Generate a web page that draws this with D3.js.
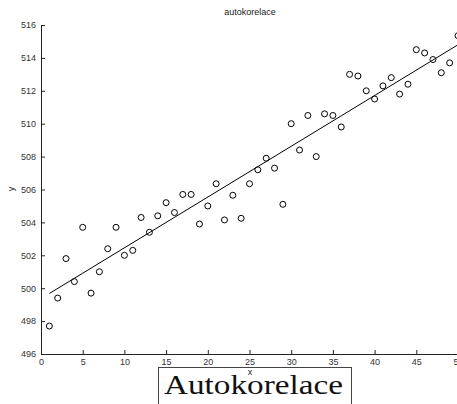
<!DOCTYPE html>
<html>
<head>
<meta charset="utf-8">
<script src="https://cdn.jsdelivr.net/npm/d3@7"></script>
<style>
  html, body { margin: 0; padding: 0; background: #fff; }
  svg { display: block; }
  .tick text { font-family: "Liberation Sans", Arial, sans-serif; font-size: 9px; fill: #333; }
</style>
</head>
<body>
<svg id="chart" width="457" height="404"></svg>
<script>
// measured series (x = lag index, y = value)
const xs = d3.range(1, 51);
const ys = [
  497.7, 499.4, 501.8, 500.4, 503.7, 499.7, 501.0, 502.4, 503.7, 502.0,
  502.3, 504.3, 503.4, 504.4, 505.2, 504.6, 505.7, 505.7, 503.9, 505.0,
  506.35, 504.15, 505.65, 504.25, 506.35, 507.2, 507.9, 507.3, 505.1, 510.0,
  508.4, 510.5, 508.0, 510.6, 510.5, 509.8, 513.0, 512.9, 512.0, 511.5,
  512.3, 512.8, 511.8, 512.4, 514.5, 514.3, 513.9, 513.1, 513.7, 515.35
];
const xTicks = [0, 5, 10, 15, 20, 25, 30, 35, 40, 45, 50];
const yTicks = [496, 498, 500, 502, 504, 506, 508, 510, 512, 514, 516];

const svg = d3.select("#chart");

const x = d3.scaleLinear().domain([0, 50]).range([41, 458]);
const y = d3.scaleLinear().domain([496, 516]).range([354, 25]);

// least squares fit line
const mx = d3.mean(xs), my = d3.mean(ys);
const slope = d3.sum(xs, (v, i) => (v - mx) * (ys[i] - my)) / d3.sum(xs, v => (v - mx) * (v - mx));
const icpt = my - slope * mx;

const axisColor = "#222";

// y axis, ticks inward
const yAxis = svg.append("g")
  .attr("transform", "translate(41,0)")
  .call(d3.axisLeft(y).tickValues(yTicks).tickSizeInner(-4).tickSizeOuter(0).tickPadding(5));
yAxis.select(".domain").attr("stroke", axisColor);
yAxis.selectAll(".tick line").attr("stroke", axisColor);

// x axis
const xAxis = svg.append("g")
  .attr("transform", "translate(0,354)")
  .call(d3.axisBottom(x).tickValues(xTicks).tickSizeInner(-4).tickSizeOuter(0).tickPadding(5));
xAxis.select(".domain").attr("stroke", axisColor);
xAxis.selectAll(".tick line").attr("stroke", axisColor);

// fit line
svg.append("line")
  .attr("x1", x(1)).attr("y1", y(icpt + slope * 1))
  .attr("x2", x(50)).attr("y2", y(icpt + slope * 50))
  .attr("stroke", "#000").attr("stroke-width", 1);

// points
svg.append("g").selectAll("circle")
  .data(xs)
  .join("circle")
  .attr("cx", d => x(d))
  .attr("cy", (d, i) => y(ys[i]))
  .attr("r", 3)
  .attr("fill", "none")
  .attr("stroke", "#000")
  .attr("stroke-width", 1);

// labels
svg.append("text")
  .attr("x", 250).attr("y", 15)
  .attr("text-anchor", "middle")
  .style("font-family", "Liberation Sans, Arial, sans-serif")
  .style("font-size", "9px")
  .attr("fill", "#222")
  .text("autokorelace");

svg.append("text")
  .attr("x", 250).attr("y", 375)
  .attr("text-anchor", "middle")
  .style("font-family", "Liberation Sans, Arial, sans-serif")
  .style("font-size", "9px")
  .attr("fill", "#222")
  .text("x");

svg.append("text")
  .attr("transform", "translate(14,189) rotate(-90)")
  .attr("text-anchor", "middle")
  .style("font-family", "Liberation Sans, Arial, sans-serif")
  .style("font-size", "9px")
  .attr("fill", "#222")
  .text("y");

// caption box
svg.append("rect")
  .attr("x", 158.5).attr("y", 367.5)
  .attr("width", 193).attr("height", 60)
  .attr("fill", "none")
  .attr("stroke", "#444")
  .attr("stroke-width", 1);

svg.append("text")
  .attr("x", 164).attr("y", 394)
  .attr("textLength", 179)
  .attr("lengthAdjust", "spacingAndGlyphs")
  .style("font-family", "Liberation Serif, 'Times New Roman', serif")
  .style("font-size", "27px")
  .attr("fill", "#111")
  .text("Autokorelace");
</script>
</body>
</html>
